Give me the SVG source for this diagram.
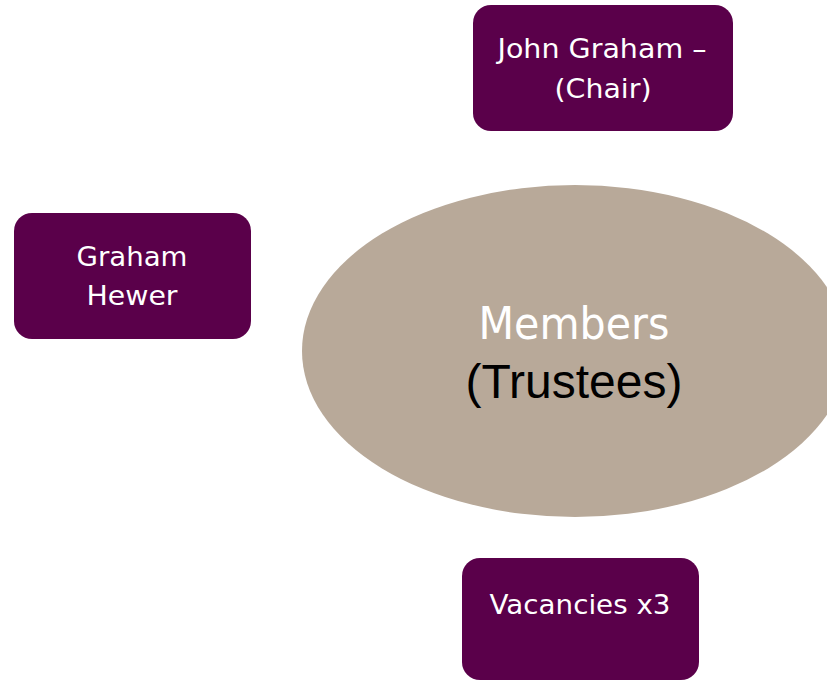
<svg xmlns="http://www.w3.org/2000/svg" width="827" height="681" viewBox="0 0 827 681">
<style>
.box{fill:#5A004A}
.bt{font-family:"DejaVu Sans","Noto Sans",sans-serif;font-size:27px;fill:#ffffff;text-anchor:middle}
</style>
<rect width="827" height="681" fill="#ffffff"/>
<g id="connectors"></g>
<g id="members">
<ellipse cx="575" cy="351" rx="273" ry="166" fill="#B8A999"/>
<text x="574" y="339" text-anchor="middle" font-family="DejaVu Sans,sans-serif" font-size="44" fill="#ffffff" textLength="191" lengthAdjust="spacingAndGlyphs">Members</text>
<text x="574" y="398" text-anchor="middle" font-family="Liberation Sans,Arial,sans-serif" font-size="48" fill="#000000">(Trustees)</text>
</g>
<g id="john-graham">
<rect class="box" x="473" y="5" width="260" height="126" rx="18"/>
<text class="bt" x="602" y="58" textLength="209" lengthAdjust="spacingAndGlyphs">John Graham –</text>
<text class="bt" x="603" y="98" textLength="97" lengthAdjust="spacingAndGlyphs">(Chair)</text>
</g>
<g id="graham-hewer">
<rect class="box" x="14" y="213" width="237" height="126" rx="18"/>
<text class="bt" x="132" y="266" textLength="111" lengthAdjust="spacingAndGlyphs">Graham</text>
<text class="bt" x="132" y="305" textLength="91" lengthAdjust="spacingAndGlyphs">Hewer</text>
</g>
<g id="vacancies">
<rect class="box" x="462" y="558" width="237" height="122" rx="18"/>
<text class="bt" x="580" y="614" textLength="181" lengthAdjust="spacingAndGlyphs">Vacancies x3</text>
</g>
</svg>
